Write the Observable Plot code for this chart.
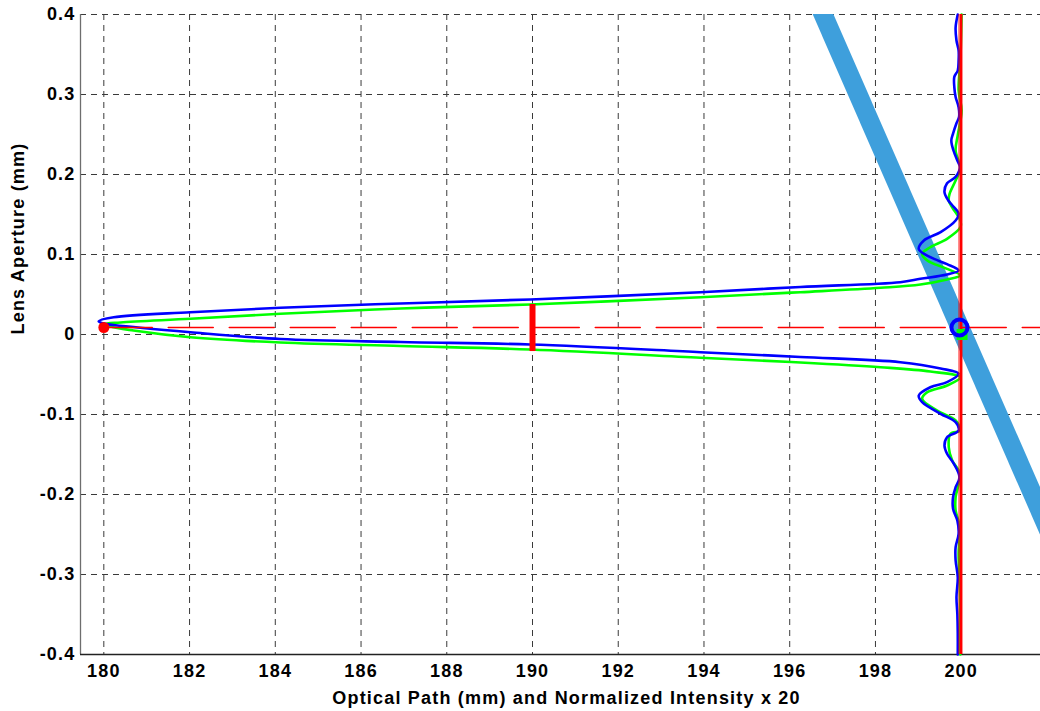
<!DOCTYPE html>
<html>
<head>
<meta charset="utf-8">
<script src="https://cdn.jsdelivr.net/npm/d3@7"></script>
<script src="https://cdn.jsdelivr.net/npm/@observablehq/plot@0.6"></script>
<style>
  html, body { margin: 0; padding: 0; background: #fff; }
  #chart { width: 1040px; height: 711px; }
</style>
</head>
<body>
<div id="chart"></div>
<script>
// ---------- data ----------
const xDomain = [179.456, 201.85];
const yDomain = [-0.4, 0.4];
const xTicks = [180, 182, 184, 186, 188, 190, 192, 194, 196, 198, 200];
const yTicks = [-0.4, -0.3, -0.2, -0.1, 0, 0.1, 0.2, 0.3, 0.4];
const yTickLabels = ["-0.4", "-0.3", "-0.2", "-0.1", "0", "0.1", "0.2", "0.3", "0.4"];
const xLabel = "Optical Path (mm) and Normalized Intensity x 20";
const yLabel = "Lens Aperture (mm)";

// blue intensity profile (optical path position, aperture)
const blueX = [199.92, 199.87, 199.89, 199.94, 199.94, 199.92, 199.84, 199.84, 199.87, 199.94,
  199.95, 199.89, 199.81, 199.77, 199.82, 199.91, 199.97, 199.87, 199.67, 199.61,
  199.70, 199.80, 199.94, 199.87, 199.52, 199.13, 199.01, 199.28, 199.67, 199.94,
  199.67, 199.05, 198.58, 196.25, 193.92, 189.95, 186.92, 184.12, 182.02, 180.23,
  179.88, 179.99, 180.23, 182.02, 184.12, 186.92, 189.95, 193.92, 196.25, 198.58,
  199.52, 199.94, 199.67, 199.28, 199.01, 199.09, 199.52, 199.87, 199.94, 199.67,
  199.61, 199.67, 199.83, 199.96, 199.87, 199.81, 199.81, 199.91, 199.94, 199.87,
  199.87, 199.92, 199.89, 199.91, 199.92, 199.92];
const blueY = [0.400, 0.384, 0.3675, 0.355, 0.3425, 0.33, 0.322, 0.309, 0.297, 0.284,
  0.272, 0.264, 0.251, 0.2425, 0.23, 0.2175, 0.209, 0.197, 0.189, 0.178,
  0.1675, 0.161, 0.151, 0.1425, 0.128, 0.1175, 0.107, 0.0966, 0.088, 0.080,
  0.075, 0.0696, 0.0654, 0.0594, 0.0529, 0.0438, 0.0388, 0.0334, 0.0279, 0.0216,
  0.0166, 0.0138, 0.0119, 0.0029, -0.0056, -0.0094, -0.0125, -0.0221, -0.0281, -0.0346,
  -0.0425, -0.0491, -0.0596, -0.0659, -0.0763, -0.0846, -0.0991, -0.1096, -0.12, -0.1284,
  -0.1388, -0.1491, -0.1616, -0.1784, -0.1909, -0.2034, -0.2179, -0.2325, -0.2491, -0.2659,
  -0.2825, -0.3034, -0.3284, -0.3491, -0.3741, -0.40];

// green intensity profile
const greenX = [200.01, 199.98, 199.94, 200.01, 199.92, 199.87, 199.98, 199.87, 199.73, 199.71,
  199.79, 199.98, 199.98, 199.67, 199.28, 199.09, 199.21, 199.67, 199.98, 199.67,
  199.05, 198.12, 196.25, 193.92, 189.95, 186.92, 184.12, 182.02, 180.39, 180.04,
  180.16, 180.69, 182.02, 184.12, 186.92, 189.95, 193.92, 196.25, 198.12, 199.28,
  199.98, 199.67, 199.21, 199.09, 199.44, 199.87, 199.98, 199.75, 199.71, 199.79,
  199.97, 199.87, 199.87, 199.97, 199.94, 199.97, 199.98, 199.98];
const greenY = [0.40, 0.3425, 0.305, 0.28, 0.249, 0.23, 0.2075, 0.1925, 0.176, 0.1675,
  0.159, 0.1425, 0.134, 0.1196, 0.1091, 0.1009, 0.0925, 0.0821, 0.0738, 0.0688,
  0.0625, 0.0584, 0.0529, 0.0466, 0.0375, 0.0325, 0.0259, 0.0196, 0.015, 0.0131,
  0.010, 0.005, -0.0034, -0.010, -0.0144, -0.0188, -0.0291, -0.035, -0.0409, -0.0463,
  -0.0534, -0.0638, -0.0721, -0.0804, -0.095, -0.1075, -0.12, -0.1241, -0.1409, -0.1575,
  -0.1741, -0.2034, -0.22, -0.2409, -0.2741, -0.3159, -0.3575, -0.40];

// optical axis / focus markers
const focusY = 0.00875;
const axisLineX = [180.08, 201.85];
const sourceX = 180;
const focusX = 199.96;
const greenMarkX = 200.02;
const greenMarkY = 0;
const thinRedX = 199.95;
const thickRedX = 200;
const barX = 190;
const barY = [-0.0213, 0.0375];
// tilted (light blue) band
const bandX = [196.3, 202.3];
const bandY = [0.459, -0.277];

// ---------- build ----------
const toRows = (xs, ys) => xs.map((x, i) => ({x, y: ys[i]}));
const blueRows = toRows(blueX, blueY);
const greenRows = toRows(greenX, greenY);
const bandRows = toRows(bandX, bandY);
const axisRows = axisLineX.map(x => ({x, y: focusY}));

const gridStyle = {stroke: "#3a3a3a", strokeWidth: 1, strokeDasharray: "6,5"};

const chart = Plot.plot({
  width: 1040,
  height: 711,
  marginLeft: 80,
  marginRight: 0,
  marginTop: 14,
  marginBottom: 57,
  style: {
    fontFamily: "'Liberation Sans', Arial, sans-serif",
    fontSize: "18px",
    fontWeight: "bold",
    letterSpacing: "1.2px",
    background: "white",
    color: "black",
    overflow: "visible"
  },
  x: {domain: xDomain, ticks: xTicks, tickSize: 0, tickPadding: 10, label: null, tickFormat: d => String(d)},
  y: {domain: yDomain, ticks: yTicks, tickSize: 0, tickPadding: 5, label: null,
      tickFormat: d => yTickLabels[yTicks.indexOf(d)]},
  marks: [
    Plot.ruleY(yTicks, gridStyle),
    Plot.ruleX(xTicks, gridStyle),
    Plot.ruleX([xDomain[0]], {stroke: "#6e6e6e", strokeWidth: 1.3}),
    Plot.ruleY([yDomain[0]], {stroke: "#222", strokeWidth: 1.3}),
    Plot.line(bandRows, {x: "x", y: "y", stroke: "#3e9fdc", strokeWidth: 19, strokeLinecap: "butt", clip: true}),
    Plot.line(greenRows, {x: "x", y: "y", stroke: "#00ff00", strokeWidth: 2.6, strokeLinejoin: "round", curve: "catmull-rom"}),
    Plot.line(blueRows, {x: "x", y: "y", stroke: "#0000ff", strokeWidth: 2.6, strokeLinejoin: "round", curve: "catmull-rom"}),
    Plot.line(axisRows, {x: "x", y: "y", stroke: "#ff0000", strokeWidth: 1.5, strokeDasharray: "45,16", clip: true}),
    Plot.ruleX([thinRedX], {y1: yDomain[0], y2: yDomain[1], stroke: "#ff0000", strokeWidth: 1}),
    Plot.ruleX([thickRedX], {y1: yDomain[0], y2: yDomain[1], stroke: "#ff0000", strokeWidth: 2.5}),
    Plot.ruleX([barX], {y1: barY[0], y2: barY[1], stroke: "#ff0000", strokeWidth: 6}),
    Plot.dot([{x: sourceX, y: focusY}], {x: "x", y: "y", r: 5.5, fill: "#ff0000", stroke: "none"}),
    Plot.dot([{x: greenMarkX, y: greenMarkY}], {x: "x", y: "y", r: 6.2, symbol: "square", fill: "#00ff00", stroke: "none"}),
    Plot.dot([{x: focusX, y: focusY}], {x: "x", y: "y", r: 8, fill: "none", stroke: "#0000ff", strokeWidth: 4}),
    Plot.text([xLabel], {frameAnchor: "bottom", dy: 44, dx: 6, lineAnchor: "middle", text: d => d}),
    Plot.text([yLabel], {frameAnchor: "left", dx: -62, rotate: -90, lineAnchor: "middle", text: d => d})
  ]
});
document.getElementById("chart").appendChild(chart);
</script>
</body>
</html>
